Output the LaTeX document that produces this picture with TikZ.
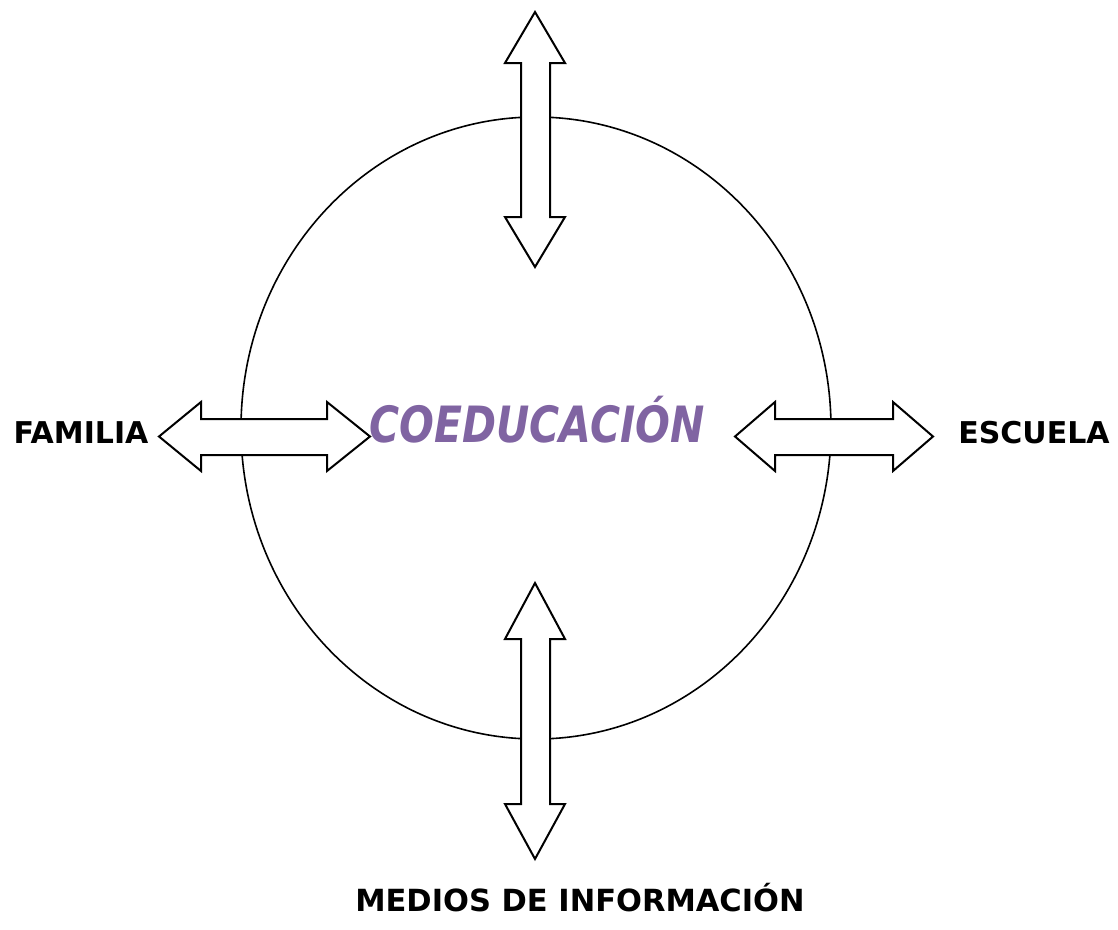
\documentclass[tikz,border=0pt]{standalone}
\usepackage{fontspec}
\setmainfont{DejaVu Sans}
\newfontfamily\lblfont{DejaVu Sans}
\newfontfamily\coedfont[FakeStretch=0.82]{DejaVu Sans}
\usetikzlibrary{positioning}
\definecolor{coedpurple}{RGB}{128,100,162}
\tikzset{
  dblarrow/.style={draw=black,fill=white,line width=2pt,line join=miter},
  sidelabel/.style={font=\lblfont\bfseries\fontsize{30}{34}\selectfont,inner sep=0pt,anchor=base},
}
\begin{document}
\begin{tikzpicture}[x=1pt,y=-1pt]
   \useasboundingbox (0,0) rectangle (1118,929);
   % Circle
   \draw[line width=1.6pt] (536,428) ellipse [x radius=295,y radius=311];
   % Arrows
   \draw[dblarrow] (535,12) -- (565,63) -- (550,63) -- (550,217) -- (565,217) -- (535,267)
      -- (505,217) -- (521,217) -- (521,63) -- (505,63) -- cycle;
   \draw[dblarrow] (535,583) -- (565,639) -- (550,639) -- (550,804) -- (565,804) -- (535,859)
      -- (505,804) -- (521,804) -- (521,639) -- (505,639) -- cycle;
   \draw[dblarrow] (159,436.5) -- (201,402) -- (201,419) -- (327,419) -- (327,402) -- (370,436.5)
      -- (327,471) -- (327,455) -- (201,455) -- (201,471) -- cycle;
   \draw[dblarrow] (735,436.5) -- (775,402) -- (775,419) -- (893,419) -- (893,402) -- (933,436.5)
      -- (893,471) -- (893,455) -- (775,455) -- (775,471) -- cycle;
   % Labels
   \node[font=\coedfont\bfseries\itshape\fontsize{50}{54}\selectfont,text=coedpurple,inner sep=0pt,anchor=base]
      (coed) at (537,442) {COEDUCACIÓN};
   \node[sidelabel] (fam) at (81,443) {FAMILIA};
   \node[sidelabel] (esc) at (1034,443) {ESCUELA};
   \node[sidelabel,font=\lblfont\bfseries\fontsize{30.5}{34}\selectfont] (med) at (580,911) {MEDIOS DE INFORMACIÓN};
\end{tikzpicture}
\end{document}
